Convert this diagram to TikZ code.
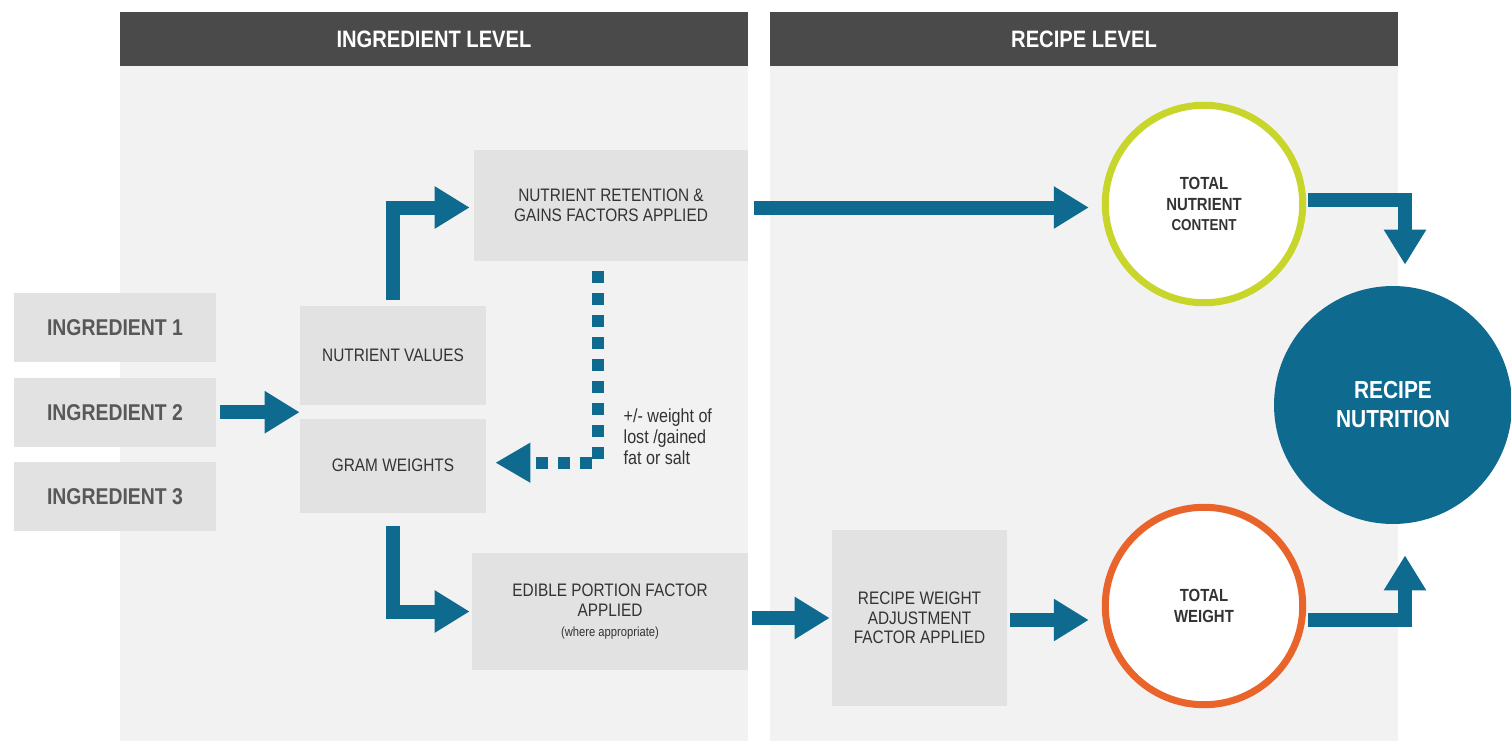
\documentclass[tikz,border=0pt]{standalone}
\usepackage{fontspec}
\setmainfont{Liberation Sans}[FakeStretch=0.85]
\usepackage{tikz}
\usetikzlibrary{positioning,arrows.meta,calc}
\definecolor{rteal}{HTML}{0E6A8F}
\definecolor{rhead}{HTML}{4A4A4A}
\definecolor{rpanel}{HTML}{F2F2F2}
\definecolor{rbox}{HTML}{E2E2E2}
\definecolor{rtext}{HTML}{333333}
\definecolor{ringtext}{HTML}{585858}
\definecolor{rlime}{HTML}{C8D62B}
\definecolor{rorange}{HTML}{E8642A}
\tikzset{
  hdr/.style  = {fill=rhead, text=white, minimum width=12.56cm, minimum height=1.08cm,
                 inner sep=0pt, font=\fontsize{13.5}{15}\selectfont\bfseries},
  ing/.style  = {fill=rbox, minimum width=4.04cm, minimum height=1.38cm, inner sep=0pt,
                 font=\fontsize{13}{15}\selectfont\bfseries, text=ringtext},
  box/.style  = {fill=rbox, inner sep=1pt, align=center, text=rtext,
                 font=\fontsize{10.3}{11.2}\selectfont},
  ring/.style = {circle, fill=white, line width=0.14cm, minimum size=3.95cm, inner sep=0pt,
                 align=center, text=rtext, font=\fontsize{10}{11.5}\selectfont\bfseries},
  flow/.style = {-{Triangle[length=0.7cm,width=0.8cm]}, line width=0.28cm, draw=rteal},
  dots/.style = {-{Triangle[length=0.7cm,width=0.75cm]}, line width=0.24cm, draw=rteal,
                 dash pattern=on 6.8pt off 5.7pt},
  note/.style = {align=left, text=rtext, inner sep=0pt, font=\fontsize{10.8}{12}\selectfont},
  node distance = 0.3cm,
}
\begin{document}
\begin{tikzpicture}[x=0.02cm, y=-0.02cm]
\useasboundingbox (0,0) rectangle (1511,741);

% ---- panels and headers
\fill[rpanel] (120,66) rectangle (748,741);
\fill[rpanel] (770,66) rectangle (1398,741);
\node[hdr] (hing) at (434,39)  {INGREDIENT LEVEL};
\node[hdr] (hrec) at (1084,39) {RECIPE LEVEL};

% ---- ingredients
\node[ing]                 (ing1) at (115,327.5) {INGREDIENT 1};
\node[ing, below=of ing1]  (ing2) {INGREDIENT 2};
\node[ing, below=of ing2]  (ing3) {INGREDIENT 3};

% ---- ingredient level
\node[box, minimum width=3.72cm, minimum height=1.98cm] (nv) at (393,355.5) {NUTRIENT VALUES};
\node[box, minimum width=3.72cm, minimum height=1.88cm, below=0.26cm of nv] (gw) {GRAM WEIGHTS};
\node[box, minimum width=5.48cm, minimum height=2.22cm] (nr) at (611,205.5)
     {NUTRIENT RETENTION \&\\GAINS FACTORS APPLIED};
\node[box, minimum width=5.52cm, minimum height=2.34cm] (ep) at (610,611.5)
     {EDIBLE PORTION FACTOR\\APPLIED\\{\fontsize{7.5}{9}\selectfont (where appropriate)}};

% ---- recipe level
\node[box, minimum width=3.5cm, minimum height=3.52cm] (rw) at (919.5,618)
     {RECIPE WEIGHT\\ADJUSTMENT\\FACTOR APPLIED};
\node[ring, draw=rlime]   (tnc) at (1204,204)
     {TOTAL\\NUTRIENT\\{\fontsize{9}{10}\selectfont CONTENT}};
\node[ring, draw=rorange] (tw)  at (1204,606) {TOTAL\\WEIGHT};
\node[circle, fill=rteal, minimum size=4.76cm, inner sep=0pt, align=center, text=white,
      font=\fontsize{14}{16.5}\selectfont\bfseries] (rn) at (1393,405) {RECIPE\\NUTRITION};

% ---- flow
\draw[flow] ([shift={(4,0)}]ing2.east) -- (ing2.east -| nv.west);
\draw[flow] ([shift={(0,-6)}]nv.north) |- ([shift={(-4,2)}]nr.west);
\draw[flow] ([shift={(6,2)}]nr.east) -- ($(nr.east -| tnc.west)+(-13,2)$);
\draw[flow] ([shift={(2,-4)}]tnc.east) -| ([shift={(12,-21)}]rn.north);
\draw[flow] ([shift={(0,13)}]gw.south) |- ([shift={(-2,0)}]ep.west);
\draw[flow] ($(ep.east |- rw.west)+(4,0)$) -- ([shift={(-2,0)}]rw.west);
\draw[flow] ([shift={(3,2)}]rw.east) -- ($(rw.east -| tw.west)+(-13,2)$);
\draw[flow] ([shift={(2,14)}]tw.east) -| ([shift={(12,31)}]rn.south);

% ---- weight change fed back to the gram weights
\draw[dots] ([shift={(-13,10)}]nr.south) |- ([shift={(9,-3)}]gw.east);
\node[note, anchor=west] (lost) at ([shift={(137,-29)}]gw.east)
     {+/- weight of\\lost /gained\\fat or salt};

\end{tikzpicture}
\end{document}
